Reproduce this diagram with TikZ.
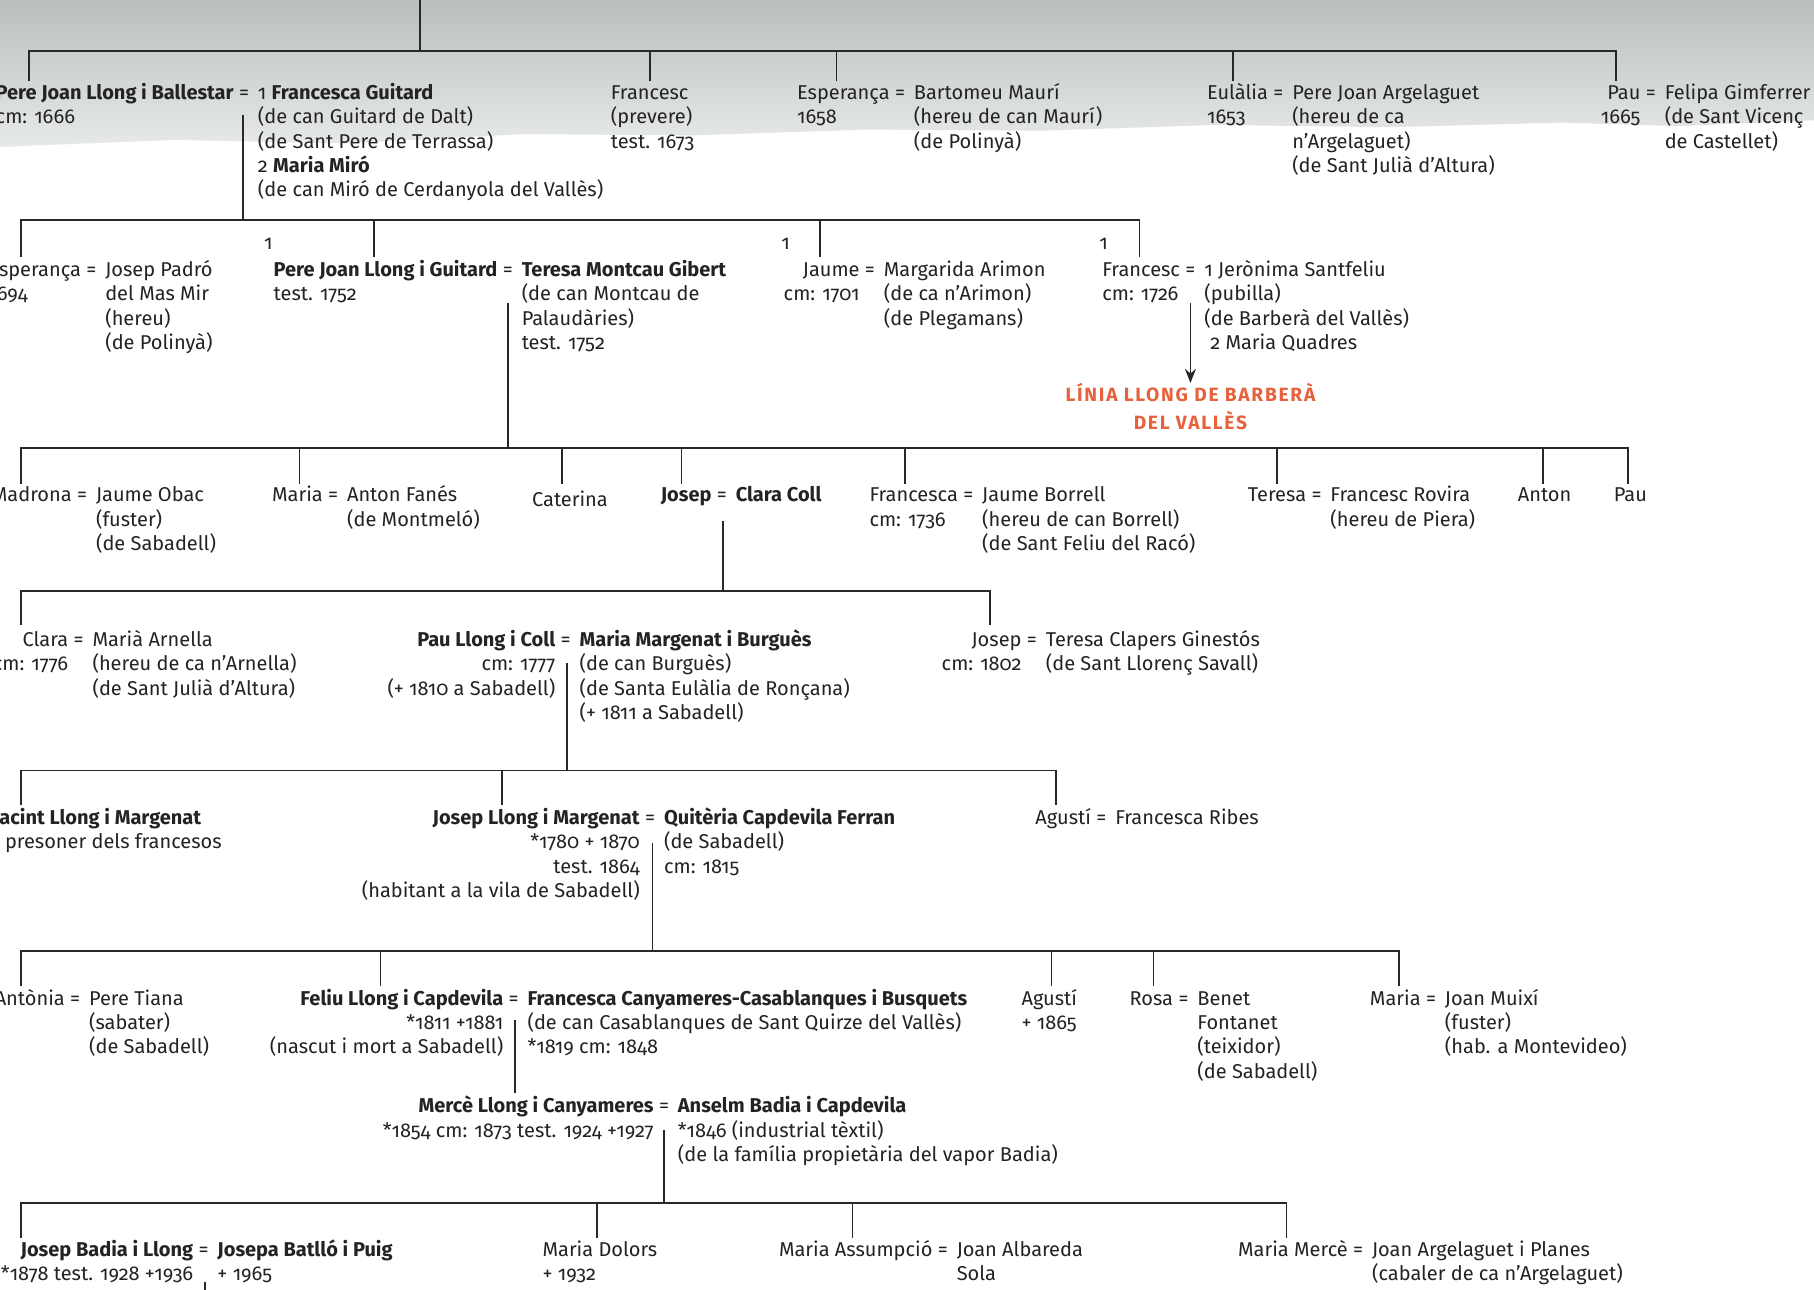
\documentclass[tikz,border=0pt]{standalone}
\usepackage{fontspec}
\setmainfont{Fira Sans}[Numbers=OldStyle]
\usetikzlibrary{arrows.meta}
\definecolor{ink}{RGB}{35,35,35}
\definecolor{linec}{RGB}{40,40,40}
\definecolor{redc}{RGB}{229,98,60}
\definecolor{bgA}{RGB}{186,190,190}
\definecolor{bgB}{RGB}{232,234,234}
\tikzset{
  txt/.style={inner sep=0pt, outer sep=0pt, text=ink, font=\fontsize{10}{12.2}\selectfont},
  ln/.style={draw=linec, line width=0.85pt},
  barbstyle/.style={inner sep=0pt, outer sep=0pt, text=redc, align=center, anchor=north,
    font=\fontsize{9.6}{12.5}\selectfont\bfseries\addfontfeatures{LetterSpace=9}},
}
\newcommand{\famcouple}[6]{%
  \node[txt, align=#4, anchor=north east] (#1L) at (#2-9,#3) {\strut#5};
  \node[txt, anchor=north] (#1E) at (#2,#3) {\strut=};
  \node[txt, align=left, anchor=north west] (#1R) at (#2+12,#3) {\strut#6};%
}
\begin{document}
\begin{tikzpicture}[x=0.5785pt, y=-0.5785pt]
\useasboundingbox (0,0) rectangle (1568,1115);
\fill[white] (0,0) rectangle (1568,1115);
\shade[top color=bgA, bottom color=bgB] (0,0) -- (1568,0) -- (1568,104) -- (1450,109) -- (1350,106)
  -- (1200,110) -- (1050,108) -- (900,113) -- (750,112) -- (600,117) -- (450,116) -- (300,124)
  -- (150,121) -- (0,127) -- cycle;

% ---------- generation 1
\famcouple{pjb}{211}{71}{left}{\textbf{Pere Joan Llong i Ballestar}\\cm: 1666}{1 \textbf{Francesca Guitard}\\(de can Guitard de Dalt)\\(de Sant Pere de Terrassa)\\2 \textbf{Maria Miró}\\(de can Miró de Cerdanyola del Vallès)}
\node[txt, align=left, anchor=north west] (francesc1) at (528,71) {\strut Francesc\\(prevere)\\test. 1673};
\famcouple{espa}{778}{71}{left}{Esperança\\1658}{Bartomeu Maurí\\(hereu de can Maurí)\\(de Polinyà)}
\famcouple{eul}{1105}{71}{left}{Eulàlia\\1653}{Pere Joan Argelaguet\\(hereu de ca\\n’Argelaguet)\\(de Sant Julià d’Altura)}
\famcouple{paua}{1427}{71}{right}{Pau\\1665}{Felipa Gimferrer\\(de Sant Vicenç\\de Castellet)}

% ---------- generation 2
\node[txt, anchor=north] (onea) at (232,201) {\strut 1};
\node[txt, anchor=north] (oneb) at (679,201) {\strut 1};
\node[txt, anchor=north] (onec) at (954,201) {\strut 1};
\famcouple{espb}{79}{224}{left}{Esperança\\1694}{Josep Padró\\del Mas Mir\\(hereu)\\(de Polinyà)}
\famcouple{pjg}{439}{224}{left}{\textbf{Pere Joan Llong i Guitard}\\test. 1752}{\textbf{Teresa Montcau Gibert}\\(de can Montcau de\\Palaudàries)\\test. 1752}
\famcouple{jau}{752}{224}{right}{Jaume\\cm: 1701}{Margarida Arimon\\(de ca n’Arimon)\\(de Plegamans)}
\famcouple{frb}{1029}{224}{left}{Francesc\\cm: 1726}{1 Jerònima Santfeliu\\(pubilla)\\(de Barberà del Vallès)\\\hspace*{3pt}2 Maria Quadres}
\node[barbstyle] (barb) at (1029,331) {\strut LÍNIA LLONG DE BARBERÀ\\DEL VALLÈS};

% ---------- generation 3
\famcouple{mad}{71}{419}{left}{Madrona}{Jaume Obac\\(fuster)\\(de Sabadell)}
\famcouple{marc}{288}{419}{left}{Maria}{Anton Fanés\\(de Montmeló)}
\node[txt, anchor=north west] (cat) at (460,423) {\strut Caterina};
\famcouple{josc}{624}{419}{left}{\textbf{Josep}}{\textbf{Clara Coll}}
\famcouple{frc}{837}{419}{left}{Francesca\\cm: 1736}{Jaume Borrell\\(hereu de can Borrell)\\(de Sant Feliu del Racó)}
\famcouple{ter}{1138}{419}{left}{Teresa}{Francesc Rovira\\(hereu de Piera)}
\node[txt, anchor=north west] (anton) at (1312,419) {\strut Anton};
\node[txt, anchor=north west] (pauc) at (1395,419) {\strut Pau};

% ---------- generation 4
\famcouple{cla}{68}{544}{right}{Clara\\cm: 1776}{Marià Arnella\\(hereu de ca n’Arnella)\\(de Sant Julià d’Altura)}
\famcouple{paud}{489}{544}{right}{\textbf{Pau Llong i Coll}\\cm: 1777\\(+ 1810 a Sabadell)}{\textbf{Maria Margenat i Burguès}\\(de can Burguès)\\(de Santa Eulàlia de Ronçana)\\(+ 1811 a Sabadell)}
\famcouple{josd}{892}{544}{right}{Josep\\cm: 1802}{Teresa Clapers Ginestós\\(de Sant Llorenç Savall)}

% ---------- generation 5
\node[txt, align=left, anchor=north west] (jac) at (-6,698) {\strut\textbf{Jacint Llong i Margenat}\\\hspace*{6pt}presoner dels francesos};
\famcouple{jll}{562}{698}{right}{\textbf{Josep Llong i Margenat}\\*1780 + 1870\\test. 1864\\(habitant a la vila de Sabadell)}{\textbf{Quitèria Capdevila Ferran}\\(de Sabadell)\\cm: 1815}
\famcouple{agu}{952}{698}{left}{Agustí}{Francesca Ribes}

% ---------- generation 6
\famcouple{ant}{65}{854}{left}{Antònia}{Pere Tiana\\(sabater)\\(de Sabadell)}
\famcouple{fel}{444}{854}{right}{\textbf{Feliu Llong i Capdevila}\\*1811 +1881\\(nascut i mort a Sabadell)}{\textbf{Francesca Canyameres-Casablanques i Busquets}\\(de can Casablanques de Sant Quirze del Vallès)\\*1819 cm: 1848}
\node[txt, align=left, anchor=north west] (agub) at (883,854) {\strut Agustí\\+ 1865};
\famcouple{ros}{1023}{854}{left}{Rosa}{Benet\\Fontanet\\(teixidor)\\(de Sabadell)}
\famcouple{marf}{1237}{854}{left}{Maria}{Joan Muixí\\(fuster)\\(hab. a Montevideo)}

% ---------- generation 7
\famcouple{mer}{574}{947}{right}{\textbf{Mercè Llong i Canyameres}\\*1854 cm: 1873 test. 1924 +1927}{\textbf{Anselm Badia i Capdevila}\\*1846 (industrial tèxtil)\\(de la família propietària del vapor Badia)}

% ---------- generation 8
\famcouple{jba}{176}{1071}{right}{\textbf{Josep Badia i Llong}\\*1878 test. 1928 +1936}{\textbf{Josepa Batlló i Puig}\\+ 1965}
\node[txt, align=left, anchor=north west] (mdol) at (469,1071) {\strut Maria Dolors\\+ 1932};
\famcouple{mas}{815}{1071}{left}{Maria Assumpció}{Joan Albareda\\Sola}
\famcouple{mme}{1174}{1071}{left}{Maria Mercè}{Joan Argelaguet i Planes\\(cabaler de ca n’Argelaguet)}

% ---------- connectors
\draw[ln] (363,0) -- (363,44);
\draw[ln] (25,70) |- (1397,44) -- (1397,70);
\foreach \x in {562,723,1066} \draw[ln] (\x,44) -- (\x,70);

\draw[ln] (210,99) -- (210,190);
\draw[ln] (18,222) |- (985,190) -- (985,222);
\foreach \x in {323,709} \draw[ln] (\x,190) -- (\x,222);

\draw[ln] (439,262) -- (439,387);
\draw[ln] (18,418) |- (1407,387) -- (1407,418);
\foreach \x in {259,486,589,782,1104,1334} \draw[ln] (\x,387) -- (\x,418);
\draw[ln, -{Stealth[length=7pt,width=5.5pt]}] (1029,262) -- (barb.north);

\draw[ln] (625,450) -- (625,511);
\draw[ln] (18,540) |- (856,511) -- (856,540);

\draw[ln] (490,573) -- (490,666);
\draw[ln] (18,696) |- (913,666) -- (913,696);
\draw[ln] (434,666) -- (434,696);

\draw[ln] (564,729) -- (564,822);
\draw[ln] (18,852) |- (1209,822) -- (1209,852);
\foreach \x in {329,909,997} \draw[ln] (\x,822) -- (\x,852);

\draw[ln] (445,882) -- (445,945);
\draw[ln] (574,977) -- (574,1040);
\draw[ln] (18,1070) |- (1112,1040) -- (1112,1070);
\foreach \x in {516,737} \draw[ln] (\x,1040) -- (\x,1070);
\draw[ln] (177,1108) -- (177,1116);
\end{tikzpicture}
\end{document}
